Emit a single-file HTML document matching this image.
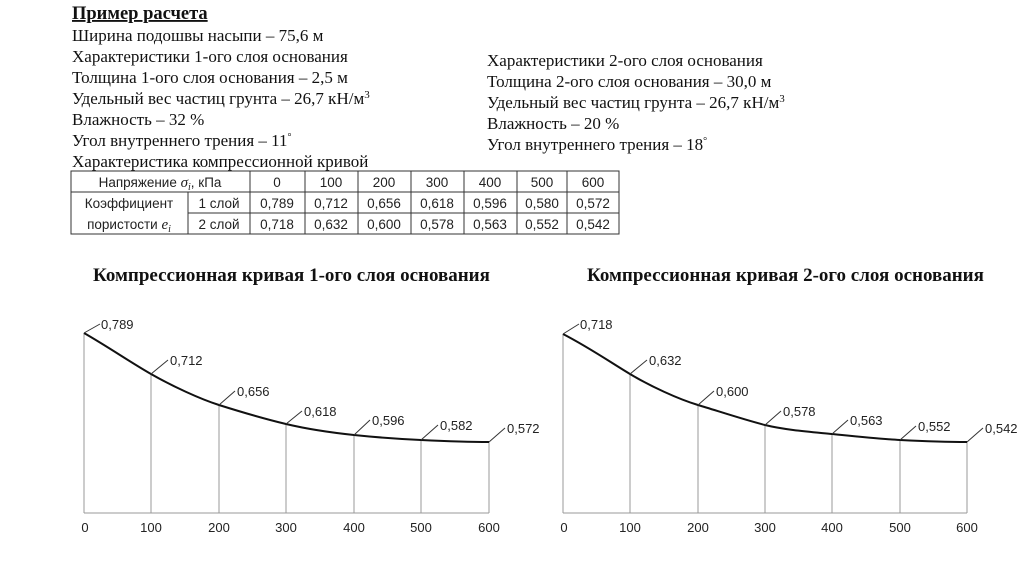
<!DOCTYPE html>
<html><head><meta charset="utf-8"><style>
html,body{margin:0;padding:0;background:#fff;}
svg{display:block}
.s{font-family:"Liberation Serif","DejaVu Serif",serif;font-size:17px;fill:#111}
.t{font-family:"Liberation Sans","DejaVu Sans",sans-serif;font-size:13.5px;fill:#222}
.l{font-family:"Liberation Sans","DejaVu Sans",sans-serif;font-size:13px;fill:#222}
</style></head><body>
<svg width="1024" height="574" viewBox="0 0 1024 574" xmlns="http://www.w3.org/2000/svg">
<text class="s" x="72" y="19" font-weight="bold" text-decoration="underline" style="font-size:18.5px">Пример расчета</text>
<text class="s" x="72" y="41">Ширина подошвы насыпи – 75,6 м</text>
<text class="s" x="72" y="62">Характеристики 1-ого слоя основания</text>
<text class="s" x="72" y="83">Толщина 1-ого слоя основания – 2,5 м</text>
<text class="s" x="72" y="104">Удельный вес частиц грунта – 26,7 кН/м<tspan font-size="11" dy="-6">3</tspan></text>
<text class="s" x="72" y="125">Влажность – 32 %</text>
<text class="s" x="72" y="146">Угол внутреннего трения – 11<tspan font-size="10" dy="-6">°</tspan></text>
<text class="s" x="72" y="167">Характеристика компрессионной кривой</text>
<text class="s" x="487" y="66">Характеристики 2-ого слоя основания</text>
<text class="s" x="487" y="87">Толщина 2-ого слоя основания – 30,0 м</text>
<text class="s" x="487" y="108">Удельный вес частиц грунта – 26,7 кН/м<tspan font-size="11" dy="-6">3</tspan></text>
<text class="s" x="487" y="129">Влажность – 20 %</text>
<text class="s" x="487" y="150">Угол внутреннего трения – 18<tspan font-size="10" dy="-6">°</tspan></text>

<g stroke="#333" stroke-width="1" fill="none">
<rect x="71" y="171" width="548" height="63"/>
<line x1="71" x2="619" y1="192" y2="192"/>
<line x1="188" x2="619" y1="213" y2="213"/>
<line x1="188" x2="188" y1="192" y2="234"/>
<line x1="250" x2="250" y1="171" y2="234"/>
<line x1="305" x2="305" y1="171" y2="234"/>
<line x1="358" x2="358" y1="171" y2="234"/>
<line x1="411" x2="411" y1="171" y2="234"/>
<line x1="464" x2="464" y1="171" y2="234"/>
<line x1="517" x2="517" y1="171" y2="234"/>
<line x1="567" x2="567" y1="171" y2="234"/>
</g>
<g class="t" text-anchor="middle">
<text x="160" y="187">Напряжение <tspan font-style="italic" font-family="Liberation Serif" font-size="15">σ<tspan font-size="10" dy="3">i</tspan></tspan><tspan dy="-3">, кПа</tspan></text>
<text x="129" y="208">Коэффициент</text>
<text x="129" y="229">пористости <tspan font-style="italic" font-family="Liberation Serif" font-size="15">e<tspan font-size="10" dy="3">i</tspan></tspan></text>
<text x="219" y="208">1 слой</text><text x="219" y="229">2 слой</text>
<text x="277" y="187">0</text><text x="331" y="187">100</text><text x="384" y="187">200</text><text x="437" y="187">300</text><text x="490" y="187">400</text><text x="542" y="187">500</text><text x="593" y="187">600</text>
<text x="277" y="208">0,789</text><text x="331" y="208">0,712</text><text x="384" y="208">0,656</text><text x="437" y="208">0,618</text><text x="490" y="208">0,596</text><text x="542" y="208">0,580</text><text x="593" y="208">0,572</text>
<text x="277" y="229">0,718</text><text x="331" y="229">0,632</text><text x="384" y="229">0,600</text><text x="437" y="229">0,578</text><text x="490" y="229">0,563</text><text x="542" y="229">0,552</text><text x="593" y="229">0,542</text>
</g>

<text class="s" x="93" y="281" font-weight="bold" style="font-size:19px">Компрессионная кривая 1-ого слоя основания</text>
<text class="s" x="587" y="281" font-weight="bold" style="font-size:19px">Компрессионная кривая 2-ого слоя основания</text>

<!-- chart 1 -->
<g stroke="#999" stroke-width="1">
<line x1="84" x2="489" y1="513" y2="513"/>
<line x1="84" x2="84" y1="333" y2="513"/>
<line x1="151" x2="151" y1="374" y2="513"/>
<line x1="219" x2="219" y1="405" y2="513"/>
<line x1="286" x2="286" y1="424" y2="513"/>
<line x1="354" x2="354" y1="435" y2="513"/>
<line x1="421" x2="421" y1="440" y2="513"/>
<line x1="489" x2="489" y1="442" y2="513"/>
</g>
<path d="M84,333 C110,348 130,362 151,374 S200,399 219,405 S265,419 286,424 S335,433 354,435 S400,439 421,440 S470,442 489,442" stroke="#111" stroke-width="2" fill="none"/>
<g stroke="#333" stroke-width="1">
<line x1="84" y1="333" x2="100" y2="324"/><line x1="151" y1="374" x2="168" y2="360"/><line x1="219" y1="405" x2="235" y2="391"/><line x1="286" y1="424" x2="302" y2="411"/><line x1="354" y1="435" x2="370" y2="420"/><line x1="421" y1="440" x2="438" y2="425"/><line x1="489" y1="442" x2="505" y2="428"/>
</g>
<g class="l">
<text x="101" y="329">0,789</text><text x="170" y="365">0,712</text><text x="237" y="396">0,656</text><text x="304" y="416">0,618</text><text x="372" y="425">0,596</text><text x="440" y="430">0,582</text><text x="507" y="433">0,572</text>
</g>
<g class="l" text-anchor="middle">
<text x="85" y="532">0</text><text x="151" y="532">100</text><text x="219" y="532">200</text><text x="286" y="532">300</text><text x="354" y="532">400</text><text x="421" y="532">500</text><text x="489" y="532">600</text>
</g>

<!-- chart 2 -->
<g stroke="#999" stroke-width="1">
<line x1="563" x2="967" y1="513" y2="513"/>
<line x1="563" x2="563" y1="334" y2="513"/>
<line x1="630" x2="630" y1="374" y2="513"/>
<line x1="698" x2="698" y1="405" y2="513"/>
<line x1="765" x2="765" y1="425" y2="513"/>
<line x1="832" x2="832" y1="434" y2="513"/>
<line x1="900" x2="900" y1="440" y2="513"/>
<line x1="967" x2="967" y1="442" y2="513"/>
</g>
<path d="M563,334 C590,348 610,362 630,374 S678,399 698,405 S745,420 765,425 S812,432 832,434 S880,439 900,440 S950,442 967,442" stroke="#111" stroke-width="2" fill="none"/>
<g stroke="#333" stroke-width="1">
<line x1="563" y1="334" x2="579" y2="324"/><line x1="630" y1="374" x2="647" y2="360"/><line x1="698" y1="405" x2="714" y2="391"/><line x1="765" y1="425" x2="781" y2="411"/><line x1="832" y1="434" x2="848" y2="420"/><line x1="900" y1="440" x2="916" y2="426"/><line x1="967" y1="442" x2="983" y2="428"/>
</g>
<g class="l">
<text x="580" y="329">0,718</text><text x="649" y="365">0,632</text><text x="716" y="396">0,600</text><text x="783" y="416">0,578</text><text x="850" y="425">0,563</text><text x="918" y="431">0,552</text><text x="985" y="433">0,542</text>
</g>
<g class="l" text-anchor="middle">
<text x="564" y="532">0</text><text x="630" y="532">100</text><text x="698" y="532">200</text><text x="765" y="532">300</text><text x="832" y="532">400</text><text x="900" y="532">500</text><text x="967" y="532">600</text>
</g>
</svg>
</body></html>
